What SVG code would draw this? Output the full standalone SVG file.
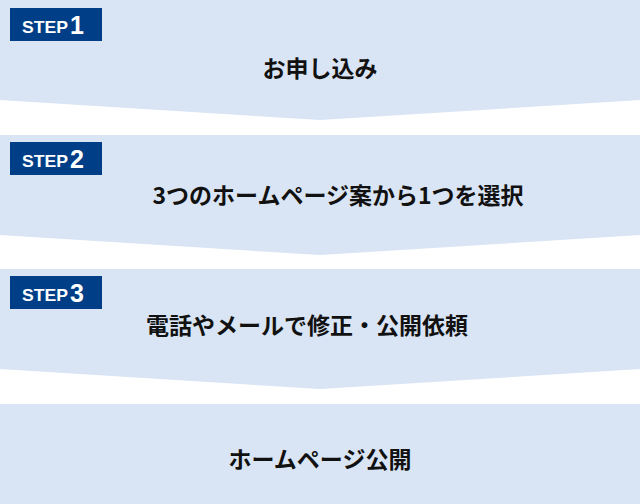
<svg xmlns="http://www.w3.org/2000/svg" width="640" height="504" viewBox="0 0 640 504">
<style>
.bg{fill:#d9e5f4}
.lb{fill:#003f87}
.st{font-family:"Liberation Sans","Noto Sans CJK JP",sans-serif;font-weight:bold;fill:#fff}
.t{font-family:"Noto Sans CJK JP",sans-serif;font-weight:bold;font-size:23px;fill:#111;text-anchor:middle}
</style>
<rect width="640" height="504" fill="#fff"/>
<g id="step1">
<polygon class="bg" points="0,0 640,0 640,100 320,120 0,100"/>
<rect class="lb" x="10" y="8" width="92" height="33"/>
<text class="st" x="22" y="33" font-size="17" textLength="46" lengthAdjust="spacingAndGlyphs">STEP</text><text class="st" x="70" y="34" font-size="25">1</text>
<text class="t" x="320" y="77">お申し込み</text>
</g>
<g id="step2">
<polygon class="bg" points="0,135 640,135 640,235 320,255 0,235"/>
<rect class="lb" x="10" y="142" width="92" height="33"/>
<text class="st" x="22" y="167" font-size="17" textLength="46" lengthAdjust="spacingAndGlyphs">STEP</text><text class="st" x="70" y="168" font-size="25">2</text>
<text class="t" x="338" y="204">3つのホームページ案から1つを選択</text>
</g>
<g id="step3">
<polygon class="bg" points="0,269 640,269 640,369 320,389 0,369"/>
<rect class="lb" x="10" y="276" width="92" height="33"/>
<text class="st" x="22" y="301" font-size="17" textLength="46" lengthAdjust="spacingAndGlyphs">STEP</text><text class="st" x="70" y="302" font-size="25">3</text>
<text class="t" x="307" y="334">電話やメールで修正・公開依頼</text>
</g>
<g id="step4">
<rect class="bg" x="0" y="404" width="640" height="100"/>
<text class="t" x="320" y="468">ホームページ公開</text>
</g>
<g id="connectors"></g>
</svg>
